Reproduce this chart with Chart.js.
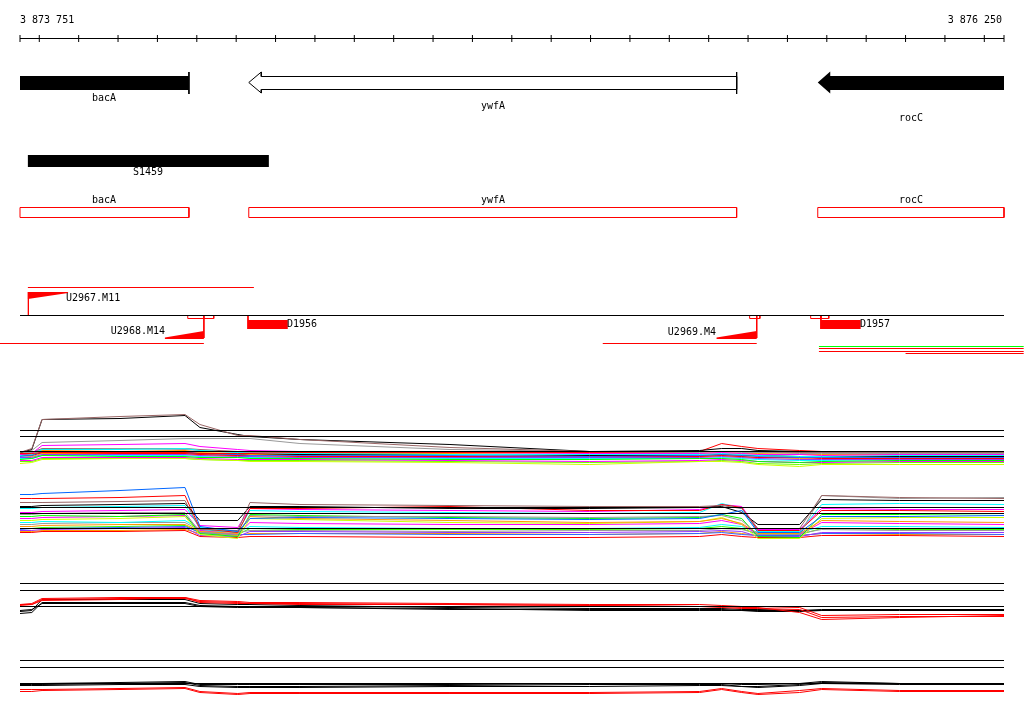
<!DOCTYPE html>
<html>
<head>
<meta charset="utf-8">
<script src="https://cdn.jsdelivr.net/npm/chart.js@4.4.1/dist/chart.umd.min.js"></script>
<style>
  html, body { margin: 0; padding: 0; background: #fff; }
  #wrap { width: 1024px; height: 714px; }
</style>
</head>
<body>
<div id="wrap"><canvas id="browser" width="1024" height="714"></canvas></div>
<script>
// ---- genome window ----
const viewStart = 3873751;
const viewEnd = 3876250;
const rulerTicks = [3873751, 3873800, 3873900, 3874000, 3874100, 3874200, 3874300, 3874400, 3874500,
    3874600, 3874700, 3874800, 3874900, 3875000, 3875100, 3875200, 3875300, 3875400, 3875500,
    3875600, 3875700, 3875800, 3875900, 3876000, 3876100, 3876200, 3876250];

// ---- genes ----
const geneNames = ["bacA", "ywfA", "rocC"];
const geneFrom = [3873751, 3874332, 3875777];
const geneTo = [3874180, 3875571, 3876250];
const geneStrand = [1, -1, -1];

// ---- S segment ----
const segNames = ["S1459"];
const segFrom = [3873771];
const segTo = [3874383];

// ---- transcription units ----
const tuNames = ["U2967.M11", "U2968.M14", "U2969.M4"];
const tuStart = [3873771, 3874218, 3875622];
const tuEnd = [3874345, 3873690, 3875231];
const tuRampEnd = [3873873, 3874119, 3875520];
const tuStrand = [1, -1, -1];

const termNames = ["D1956", "D1957"];
const termFrom = [3874330, 3875785];
const termTo = [3874431, 3875886];

const siteFrom = [3874177, 3874218, 3875604, 3875622, 3875759, 3875785];
const siteTo = [3874218, 3874243, 3875622, 3875630, 3875785, 3875805];

const readFrom = [3875780, 3875780, 3875780, 3876000];
const readTo = [3876300, 3876300, 3876300, 3876300];

// ---- expression profiles (probe positions, signal per probe) ----
const probeX = [3873751, 3873781, 3873807, 3874005, 3874170, 3874208, 3874304, 3874335, 3874462,
    3874843, 3875198, 3875477, 3875533, 3875584, 3875625, 3875731, 3875787, 3875985, 3876250];

const t1Values = [
    [-1, 3, 32, 35, 37, 27, 16, 16, 12, 4, 0, 0, 0, 0, 0, -1, -1, 0, 0],
    [-1, 2, 32, 33, 36, 24, 17, 15, 12, 7, 0, 1, 3, 3, 1, 0, 0, 0, 0],
    [-1, 1, 9, 11, 13, 13, 13, 13, 8, 2, 0, 0, 0, 0, 0, -1, -1, 0, 0],
    [-2, -2, -1, -1, -1, -2, -2, -2, -1, -1, -1, 0, 8, 5, 3, 1, 0, 0, 0],
    [-3, -2, 6, 7, 8, 5, 2, 1, 0, -1, -2, -2, -1, -2, -3, -3, -4, -3, -3],
    [-4, -3, 2, 2, 3, 1, -1, -2, -2, -3, -3, -3, -2, -3, -4, -5, -5, -4, -4],
    [-2, -2, 1, 0, 1, -1, -2, -3, -2, -2, -3, -2, -1, -2, -2, -3, -3, -3, -3],
    [-5, -4, 0, -1, -1, -2, -3, -4, -4, -4, -5, -4, -3, -4, -5, -6, -6, -6, -6],
    [-3, -3, -1, -2, -2, -3, -4, -4, -5, -5, -5, -5, -4, -5, -6, -6, -7, -7, -7],
    [-8, -7, -4, -5, -5, -6, -6, -7, -7, -8, -8, -7, -7, -8, -10, -11, -10, -9, -9],
    [-12, -11, -8, -7, -7, -8, -9, -10, -10, -11, -13, -10, -10, -11, -13, -15, -13, -13, -13],
    [-6, -6, -3, -3, -3, -4, -5, -5, -6, -6, -6, -6, -5, -6, -7, -8, -8, -8, -8],
    [-1, -1, 2, 3, 2, 1, -1, -1, -1, -1, -1, -1, 0, -1, -1, -2, -2, -2, -2],
    [-2, -1, 3, 3, 3, 2, 0, 0, 0, -1, -1, 0, 0, 0, -1, -1, -1, -1, -1],
    [-9, -9, -6, -6, -6, -7, -8, -8, -8, -9, -10, -9, -8, -9, -10, -11, -11, -10, -10],
    [-7, -7, -4, -4, -4, -5, -6, -6, -6, -7, -7, -7, -6, -7, -8, -9, -9, -8, -8],
    [-10, -10, -7, -7, -7, -8, -9, -9, -9, -10, -11, -10, -9, -10, -12, -13, -12, -11, -11],
    [-6, -5, -2, -2, -2, -3, -4, -4, -4, -5, -5, -5, -4, -5, -6, -7, -6, -6, -6],
    [-4, -4, -1, -1, -1, -2, -3, -3, -3, -3, -4, -4, -3, -4, -4, -5, -5, -5, -5]
];

const t2Values = [
    [34, 34, 35, 38, 41, 2, -3, 10, 11, 10, 9, 10, 14, 18, -4, -4, 12, 12, 13],
    [26, 26, 26, 27, 28, -1, -2, 26, 24, 23, 22, 22, 23, 20, 0, 0, 33, 31, 30],
    [22, 22, 23, 24, 25, 8, 8, 22, 22, 20, 20, 21, 22, 16, 4, 4, 29, 28, 28],
    [14, 14, 15, 16, 16, -4, -6, 13, 12, 12, 11, 12, 13, 8, -6, -6, 33, 30, 31],
    [30, 30, 30, 31, 33, 0, -4, 20, 20, 22, 18, 18, 24, 21, -2, -2, 18, 18, 17],
    [20, 20, 21, 22, 23, 1, -3, 18, 17, 16, 15, 16, 25, 20, -3, -3, 24, 25, 24],
    [16, 16, 17, 18, 19, 3, 1, 20, 19, 18, 17, 19, 24, 22, -1, -1, 20, 19, 19],
    [2, 2, 3, 4, 4, -3, -5, 12, 10, 8, 6, 7, 10, 5, -5, -5, 8, 7, 6],
    [12, 12, 13, 12, 14, -5, -8, 14, 13, 11, 10, 11, 14, 10, -8, -9, 14, 14, 15],
    [8, 8, 9, 10, 12, -6, -10, 10, 9, 6, 5, 7, 11, 4, -10, -10, 10, 11, 11],
    [-2, -2, -1, 0, 1, -7, -8, -3, -3, -4, -4, -3, -2, -3, -8, -8, -4, -4, -4],
    [10, 10, 11, 12, 13, -2, -6, 6, 5, 4, 4, 5, 8, 4, -6, -6, 6, 5, 4],
    [-1, 0, 0, 1, 2, -4, -6, -6, -5, -6, -6, -5, -4, -6, -7, -7, -5, -5, -6],
    [-4, -4, -3, -3, -2, -8, -9, -8, -8, -9, -9, -8, -6, -8, -9, -9, -7, -7, -8],
    [6, 6, 7, 6, 8, -1, -4, 2, 1, 0, 0, 1, 4, 2, -4, -4, 2, 2, 1],
    [4, 4, 5, 6, 6, -2, -4, -2, -2, -3, -2, -2, 0, -1, -5, -5, -1, -2, -2],
    [-3, -3, -2, -2, -1, -5, -7, -5, -5, -5, -6, -5, -3, -5, -7, -7, -5, -6, -6],
    [0, 0, 1, 2, 3, -4, -6, 0, -1, -1, -1, 0, 2, 0, -6, -6, 0, -1, -1]
];

const t3Values = [
    [2, 3, 8, 9, 9, 6, 5, 4, 4, 3, 2, 2, 1, 0, 0, -1, -9, -8, -8],
    [1, 2, 7, 8, 8, 5, 4, 3, 3, 2, 1, 0, -1, -2, -2, -3, -11, -10, -10],
    [2, 2, 6, 7, 9, 4, 3, 3, 2, 2, 1, 0, 0, -1, -1, -6, -13, -11, -9],
    [-5, -4, 7, 7, 7, 3, 2, 2, 1, -1, -2, -2, -2, -3, -3, -4, -4, -4, -4],
    [-7, -6, 4, 4, 4, 1, 0, 0, -1, -2, -4, -4, -4, -4, -5, -5, -4, -3, -3],
    [-4, -3, 3, 3, 3, 0, -1, -1, -1, -3, -3, -3, -3, -4, -4, -4, -3, -3, -4]
];

const t4Values = [
    [-1, -1, -1, 0, 1, -2, -3, -3, -3, -2, -1, -1, -1, -3, -3, -1, 1, 0, 0],
    [0, 0, 0, 1, 2, -1, -1, -1, -1, -1, 0, 0, 0, -1, -1, 0, 2, 0, 0],
    [-2, -2, -2, -1, -1, -3, -4, -4, -4, -3, -3, -2, -2, -3, -4, -2, 0, -1, -1],
    [-6, -6, -6, -5, -4, -8, -10, -9, -9, -9, -9, -8, -5, -8, -10, -7, -5, -7, -7],
    [-8, -8, -7, -6, -5, -9, -11, -10, -10, -10, -10, -9, -6, -9, -11, -9, -6, -8, -8]
];

// ---- styles and layout (rows in pixels from top) ----
const RED = "#ff0000";
const t1Colors = ["#996666", "#000000", "#999999", "#ff0000", "#ff00ff", "#00ffff", "#ff9900", "#3366ff",
    "#ff0000", "#00ff00", "#ccff00", "#9933ff", "#999999", "#996666", "#ff00ff", "#00ffff", "#66ff00",
    "#ff9900", "#000000"];
const t2Colors = ["#0066ff", "#996666", "#000000", "#999999", "#ff0000", "#00ffff", "#ff00ff", "#ff9900",
    "#00ff00", "#ccff00", "#9933ff", "#ff00ff", "#3366ff", "#ff0000", "#00ffff", "#999999", "#ff9900", "#33ff00"];
const t3Colors = [RED, RED, RED, "#000000", "#000000", "#000000"];
const t4Colors = ["#000000", "#000000", "#000000", RED, RED];
const readColors = ["#00ff00", RED, RED, RED];
const readRows = [346, 348, 351, 353];

const trackRefRows = [[430, 436, 451], [507, 513, 528], [583, 590, 606], [660, 667, 683]];
const geneLabelRows = [98, 106, 118];

const bpPerPx = (viewEnd - viewStart) / 984;
const xMin = viewStart - 20 * bpPerPx;
const xMax = xMin + 1024 * bpPerPx;
const H = 0.5;

function line(points, color, extra) {
    return Object.assign({
        data: points.map(p => ({ x: p[0], y: p[1] })),
        borderColor: color,
        borderWidth: 1,
        pointRadius: 0,
        fill: false,
        order: 2
    }, extra || {});
}
function poly(points, color, extra) {
    return line(points.concat([points[0]]), color,
        Object.assign({ fill: "shape", backgroundColor: color, borderWidth: 0 }, extra || {}));
}
function rect(x1, x2, top, bottom, color, filled) {
    const pts = [[x1, top], [x2, top], [x2, bottom], [x1, bottom], [x1, top]];
    return filled ? poly(pts.slice(0, 4), color) : line(pts, color);
}
function pxToBp(n) { return n * bpPerPx; }

const datasets = [];

// ruler
datasets.push(line([[viewStart, 38 + H], [viewEnd, 38 + H]], "#000"));
datasets.push({
    data: rulerTicks.map(t => ({ x: t, y: 38 + H })),
    showLine: false, pointStyle: "line", pointRotation: 90, pointRadius: 3.5,
    pointBorderColor: "#000", pointBorderWidth: 1, borderColor: "#000", order: 1
});

// genes
const arrowHead = pxToBp(12.5);
geneNames.forEach((g, i) => {
    const a = geneFrom[i], b = geneTo[i];
    if (i === 0) {
        datasets.push(rect(a, b, 76, 90, "#000", true));
        datasets.push(line([[b, 72], [b, 94]], "#000"));
    } else if (i === 1) {
        datasets.push(line([[a, 82.5], [a + arrowHead, 72], [a + arrowHead, 76.5], [b, 76.5],
            [b, 89.5], [a + arrowHead, 89.5], [a + arrowHead, 93], [a, 82.5]], "#000"));
        datasets.push(line([[b, 72], [b, 94]], "#000"));
    } else {
        datasets.push(poly([[a, 82.5], [a + arrowHead, 71.5], [a + arrowHead, 76], [b, 76],
            [b, 90], [a + arrowHead, 90], [a + arrowHead, 93.5], [a, 82.5]], "#000"));
    }
    // annotation boxes
    datasets.push(rect(a, b, 207 + H, 217 + H, RED, false));
});

// S segment
datasets.push(rect(segFrom[0], segTo[0], 155, 167, "#000", true));

// transcription units
datasets.push(line([[viewStart, 315 + H], [viewEnd, 315 + H]], "#000"));
tuNames.forEach((u, i) => {
    const s = tuStart[i], r = tuRampEnd[i];
    if (tuStrand[i] > 0) {
        datasets.push(line([[s, 287 + H], [tuEnd[i], 287 + H]], RED));
        datasets.push(line([[s + pxToBp(0.5), 292], [s + pxToBp(0.5), 315]], RED));
        datasets.push(poly([[s, 292], [r, 292], [r, 293], [s, 299]], RED));
    } else {
        datasets.push(line([[tuEnd[i], 343 + H], [s, 343 + H]], RED));
        datasets.push(line([[s, 318], [s, 338]], RED));
        datasets.push(poly([[s, 331], [s, 339], [r, 339], [r, 337.5]], RED));
    }
});
siteFrom.forEach((f, i) => datasets.push(rect(f, siteTo[i], 315 + H, 318 + H, RED, false)));
termNames.forEach((d, i) => {
    datasets.push(line([[termFrom[i], 316], [termFrom[i], 329]], RED));
    datasets.push(rect(termFrom[i], termTo[i], 320, 329, RED, true));
});
readFrom.forEach((f, i) => datasets.push(line([[f, readRows[i] + H], [readTo[i], readRows[i] + H]], readColors[i])));

// expression tracks
function profiles(values, colors, base) {
    values.forEach((v, i) => {
        datasets.push(line(probeX.map((x, j) => [x, base - v[j] + H]), colors[i], { order: 3 + i }));
    });
}
profiles(t1Values, t1Colors, trackRefRows[0][2]);
profiles(t2Values, t2Colors, trackRefRows[1][2]);
profiles(t3Values, t3Colors, trackRefRows[2][2]);
profiles(t4Values, t4Colors, trackRefRows[3][2]);
trackRefRows.forEach(rows => rows.forEach(r =>
    datasets.push(line([[viewStart, r + H], [viewEnd, r + H]], "#000", { order: 0 }))));

// labels drawn at data positions
const labelPlugin = {
    id: "labels",
    afterDatasetsDraw(chart) {
        const ctx = chart.ctx, xs = chart.scales.x, ys = chart.scales.y;
        const put = (text, x, row, align) => {
            ctx.textAlign = align || "center";
            ctx.fillText(text, Math.round(xs.getPixelForValue(x)), ys.getPixelForValue(row));
        };
        ctx.save();
        ctx.font = '10px "DejaVu Sans Mono", "Liberation Mono", monospace';
        ctx.fillStyle = "#000";
        ctx.textBaseline = "middle";
        put("3 873 751", viewStart, 20, "left");
        put("3 876 250", viewEnd - pxToBp(2), 20, "right");
        geneNames.forEach((g, i) => {
            const mid = (geneFrom[i] + geneTo[i]) / 2;
            put(g, mid, geneLabelRows[i]);
            put(g, mid, 200);
        });
        put(segNames[0], (segFrom[0] + segTo[0]) / 2, 172);
        put(tuNames[0], tuRampEnd[0] - pxToBp(2), 298, "left");
        put(tuNames[1], tuRampEnd[1], 331, "right");
        put(tuNames[2], tuRampEnd[2] - pxToBp(1), 332, "right");
        termNames.forEach((d, i) => put(d, termTo[i] - pxToBp(1), 324, "left"));
        ctx.restore();
    }
};

new Chart(document.getElementById("browser"), {
    type: "line",
    data: { datasets: datasets },
    options: {
        responsive: false,
        animation: false,
        devicePixelRatio: 1,
        events: [],
        layout: { padding: 0, autoPadding: false },
        elements: { point: { radius: 0 }, line: { tension: 0, borderWidth: 1 } },
        scales: {
            x: { type: "linear", display: false, min: xMin, max: xMax },
            y: { type: "linear", display: false, min: 0, max: 714, reverse: true }
        },
        plugins: { legend: { display: false }, tooltip: { enabled: false } }
    },
    plugins: [labelPlugin]
});
</script>
</body>
</html>
